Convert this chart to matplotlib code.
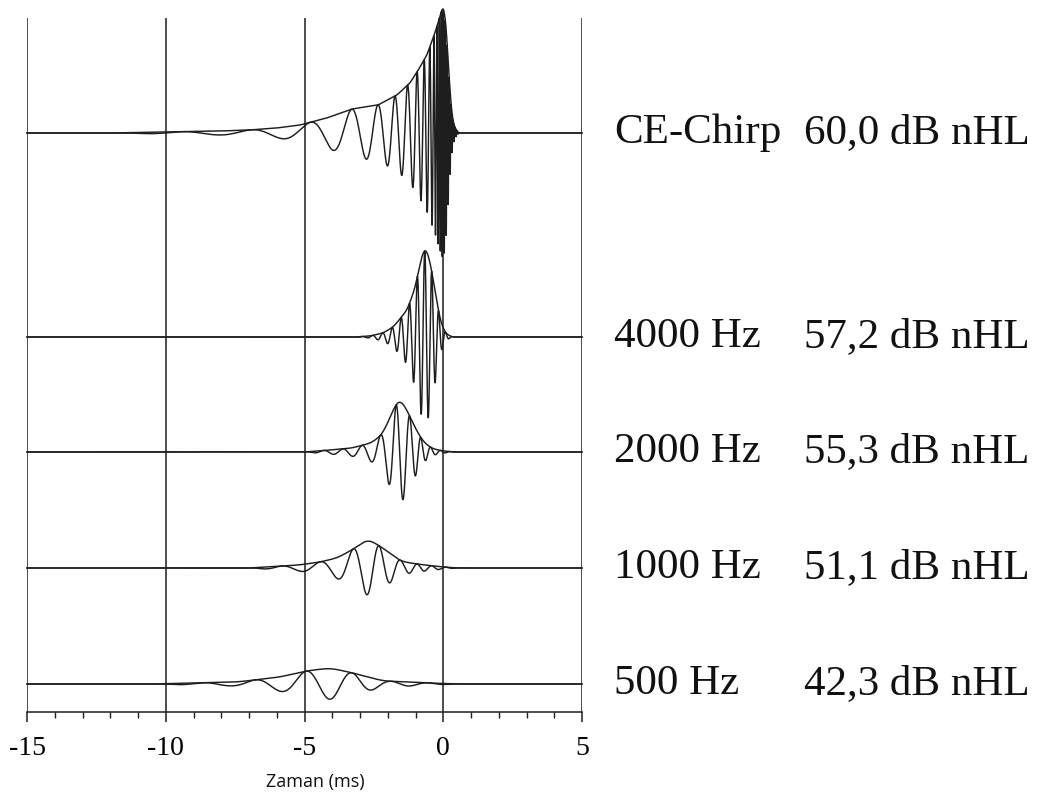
import numpy as np
import matplotlib.pyplot as plt

plt.rcParams["axes.unicode_minus"] = False

# etiketler
labels = ["CE-Chirp", "4000 Hz", "2000 Hz", "1000 Hz", "500 Hz"]
levels = ["60,0 dB nHL", "57,2 dB nHL", "55,3 dB nHL", "51,1 dB nHL", "42,3 dB nHL"]
offsets = [579, 375, 260, 144, 28]   # baseline of each trace (arbitrary units)

# envelope: time (ms) / height
env_t = [
    [-12, -10, -8, -7, -6, -5.16, -4.2, -3.29, -2.35, -1.67, -1.2, -0.9, -0.59, -0.3, 0, 0.1, 0.2, 0.3, 0.4, 0.55],
    [-3.2, -2.64, -2.17, -1.8, -1.3, -1.0, -0.84, -0.66, -0.48, -0.3, -0.12, 0.06, 0.3],
    [-5, -4.08, -3.29, -2.6, -2.21, -1.95, -1.74, -1.56, -1.27, -0.98, -0.69, -0.37, 0, 0.4],
    [-7, -5.2, -4.44, -3.83, -3.29, -2.71, -2.35, -1.92, -1.56, -1.2, -0.66, 0, 0.5],
    [-10.5, -9, -7.43, -5.88, -4.95, -4.08, -3.25, -2.17, -1.2, -0.48, 0.5],
]
env_a = [
    [0, 1, 2, 3, 5, 8, 15, 24, 28, 38, 50, 63, 78, 100, 128, 110, 60, 20, 6, 0],
    [0, 1, 4, 10, 27, 50, 74, 92, 77, 47, 17, 4, 0],
    [0, 2, 4, 9, 17, 32, 47, 54, 40, 22, 9, 3, 1, 0],
    [0, 3, 6, 10, 18, 29, 23, 15, 7, 5, 3, 1, 0],
    [0, 1, 2, 7, 13, 16, 11, 3, 2, 1, 0],
]

# instantaneous frequency (kHz) read from trough spacing
freq_t = [
    [-15, -8, -5.0, -3.34, -2.33, -1.7, -1.25, -0.91, -0.66, -0.44, -0.25, -0.1, 5],
    [-15, -2.5, -1.8, -1.0, -0.5, 5],
    [-15, -2.95, -2.27, -1.7, -1.21, -0.83, 5],
    [-15, -4.5, -3.3, -2.33, -1.56, -0.95, 5],
    [-15, -5, -3.4, -2, 5],
]
freq_f = [
    [0.3, 0.4, 0.5, 0.79, 1.32, 2.0, 2.5, 3.5, 4.5, 6.0, 10, 14, 16],
    [2.7, 2.7, 3.0, 3.6, 4.0, 4.2],
    [1.45, 1.45, 1.54, 2.0, 2.13, 2.8, 3.0],
    [0.7, 0.73, 0.93, 1.2, 1.39, 1.9, 2.2],
    [0.5, 0.55, 0.65, 0.75, 0.8],
]
trough_t = [-3.97, -0.54, -1.45, -2.75, -4.08]
smooth_ms = [0.04, 0.08, 0.12, 0.15, 0.2]

dt = 0.001
t = np.arange(-15, 5 + dt, dt)


def smooth(y, s):
    n = int(4 * s / dt)
    k = np.exp(-0.5 * (np.arange(-n, n + 1) * dt / s) ** 2)
    return np.convolve(y, k / k.sum(), mode="same")


fig = plt.figure(figsize=(10.4, 8.05), dpi=100)
ax = fig.add_axes([27 / 1040, 93 / 805, 555 / 1040, 712 / 805])
col = "#1e1e1e"

for i in range(len(labels)):
    env = smooth(np.interp(t, env_t[i], env_a[i], left=0, right=0), smooth_ms[i])
    f = np.interp(t, freq_t[i], freq_f[i])
    ph = 2 * np.pi * np.cumsum(f) * dt
    ph = ph - np.interp(trough_t[i], t, ph) + np.pi
    wave = env * np.cos(ph)
    ax.plot(t, offsets[i] + wave, color=col, lw=1.05, clip_on=False)
    ax.plot(t, offsets[i] + env, color=col, lw=1.05, clip_on=False)
    fig.text(614 / 1040, 1 - (712 - offsets[i]) / 805, labels[i], fontsize=31,
             family="Liberation Serif", va="center", ha="left", color="#111")
    fig.text(804 / 1040, 1 - (712 - offsets[i]) / 805, levels[i], fontsize=31,
             family="Liberation Serif", va="center", ha="left", color="#111")

ax.vlines([-15, -10, -5, 0, 5], 0, 694, color=col, lw=1.1)
ax.set_xlim(-15, 5)
ax.set_ylim(0, 712)
for s in ["top", "left", "right"]:
    ax.spines[s].set_visible(False)
ax.spines["bottom"].set_color(col)
ax.spines["bottom"].set_linewidth(1.1)
ax.set_yticks([])
ax.set_xticks([-15, -10, -5, 0, 5])
ax.set_xticks(np.arange(-15, 6, 1), minor=True)
ax.tick_params(axis="x", which="major", length=7, width=1.1, color=col, pad=10)
ax.tick_params(axis="x", which="minor", length=4.5, width=1.0, color=col)
for lb in ax.get_xticklabels():
    lb.set_family("Liberation Serif")
    lb.set_fontsize(20)
ax.patch.set_alpha(0)

fig.text(315 / 1040, 1 - 782 / 805, "Zaman (ms)", fontsize=13, family="Open Sans",
         ha="center", va="center", color="#111")

fig.savefig("out.png", dpi=100)
